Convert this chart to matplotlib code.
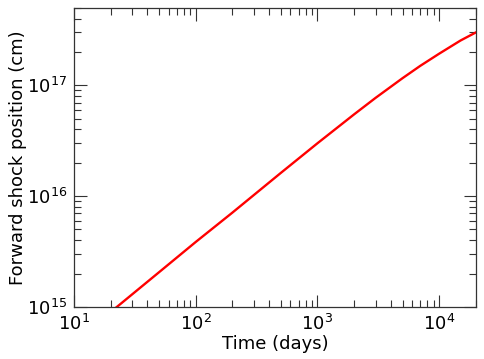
import matplotlib
matplotlib.use("Agg")
import matplotlib.pyplot as plt

# forward shock radius vs time
time_days = [20, 50, 100, 200, 500, 1000, 2000, 3000, 5000, 7000,
             10000, 15000, 20000]
radius_cm = [0.90e15, 2.06e15, 3.86e15, 7.1e15, 1.62e16, 3.0e16,
             5.47e16, 7.7e16, 1.16e17, 1.5e17, 1.93e17, 2.54e17, 3.0e17]

fig = plt.figure(figsize=(4.84, 3.59), dpi=100)
ax = fig.add_axes([0.153, 0.145, 0.83, 0.833])

ax.plot(time_days, radius_cm, color='red', lw=1.7)

ax.set_xscale('log')
ax.set_yscale('log')
ax.set_xlim(10, 2e4)
ax.set_ylim(1e15, 5e17)

ax.set_xlabel('Time (days)', fontsize=13, labelpad=1)
ax.set_ylabel('Forward shock position (cm)', fontsize=13, labelpad=0)

ax.tick_params(which='both', direction='in', top=True, right=True,
               labelsize=13, color='#333333', width=0.8)
ax.tick_params(which='major', length=9, pad=5)
ax.tick_params(which='minor', length=5)
for s in ax.spines.values():
    s.set_color('#333333')
    s.set_linewidth(0.9)

fig.savefig('out.png', dpi=100)
